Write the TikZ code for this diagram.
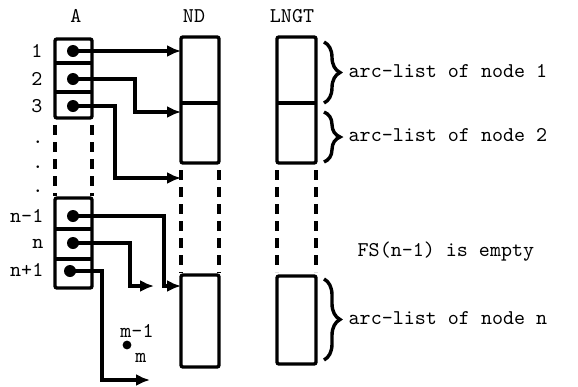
\documentclass[tikz,border=0pt]{standalone}
\usepackage{tikz}
\usetikzlibrary{arrows.meta, decorations.pathreplacing}

\begin{document}
\begin{tikzpicture}[x=0.5pt, y=-0.5pt, line width=1.7pt,
    txt/.style={font=\ttfamily\fontsize{10.5}{12}\selectfont, inner sep=0pt},
    ptr/.style={-{Latex[length=7pt, width=6pt]}},
    gap/.style={dash pattern=on 5pt off 3.5pt},
    brc/.style={decorate, decoration={brace, amplitude=8pt}}]
    \useasboundingbox (0,0) rectangle (578,386);

    % column heads
    \node[txt] (headA) at (76,16) {A};
    \node[txt] (headND) at (194,16) {ND};
    \node[txt] (headLNGT) at (292,16) {LNGT};

    % array A
    \draw[rounded corners=1pt] (55,39) rectangle (92,118);
    \draw (55,63) -- (92,63);
    \draw (55,92) -- (92,92);
    \draw[gap] (55,125) -- (55,196);
    \draw[gap] (92,125) -- (92,196);
    \draw[rounded corners=1pt] (55,198) rectangle (92,288);
    \draw (55,229) -- (92,229);
    \draw (55,259) -- (92,259);

    \node[txt, anchor=east] (i1) at (44,51) {1};
    \node[txt, anchor=east] (i2) at (44,79) {2};
    \node[txt, anchor=east] (i3) at (44,106) {3};
    \node[txt] (v1) at (38,142) {.};
    \node[txt] (v2) at (38,167) {.};
    \node[txt] (v3) at (38,191) {.};
    \node[txt, anchor=east] (in1) at (45,216) {n-1};
    \node[txt, anchor=east] (in) at (45,244) {n};
    \node[txt, anchor=east] (inp) at (45,270) {n+1};

    % array ND
    \draw[rounded corners=1pt] (181,37) rectangle (219,163);
    \draw (181,103) -- (219,103);
    \draw[gap] (181,170) -- (181,273);
    \draw[gap] (219,170) -- (219,273);
    \draw[rounded corners=1pt] (181,275) rectangle (219,367);

    % array LNGT
    \draw[rounded corners=1pt] (277,37) rectangle (316,163);
    \draw (277,103) -- (316,103);
    \draw[gap] (277,170) -- (277,272);
    \draw[gap] (316,170) -- (316,272);
    \draw[rounded corners=1pt] (277,276) rectangle (316,364);

    % pointers
    \coordinate (p1) at (73,51);
    \coordinate (p2) at (73,79);
    \coordinate (p3) at (73,106);
    \coordinate (pn1) at (73,216);
    \coordinate (pn) at (73,243);
    \coordinate (pnp) at (70,271);
    \foreach \p in {p1,p2,p3,pn1,pn,pnp}
        \fill (\p) circle (3pt);

    \coordinate (t1) at (181,51);
    \coordinate (t2) at (181,112);
    \coordinate (t3) at (181,178);
    \coordinate (tn1) at (181,286);
    \coordinate (tn) at (154,286);
    \coordinate (tnp) at (150,380);

    \draw[ptr] (p1) -- (t1);
    \draw[ptr] (p2) -| (135,112) -- (t2);
    \draw[ptr] (p3) -| (115,178) -- (t3);
    \draw[ptr] (pn1) -| (164,286) -- (tn1);
    \draw[ptr] (pn) -| (130,286) -- (tn);
    \draw[ptr] (pnp) -| (102,380) -- (tnp);

    \node[txt] (m1) at (137,331) {m-1};
    \fill (127,345) circle (2.2pt);
    \node[txt] (m) at (141,358) {m};

    % arc-lists
    \draw[brc] (324,42) -- (324,103);
    \draw[brc] (324,112) -- (324,162);
    \draw[brc] (324,279) -- (324,360);
    \node[txt, anchor=west] (arc1) at (347,71) {arc-list of node 1};
    \node[txt, anchor=west] (arc2) at (347,135) {arc-list of node 2};
    \node[txt, anchor=west] (fs) at (356,252) {FS(n-1) is empty};
    \node[txt, anchor=west] (arcn) at (347,318) {arc-list of node n};
\end{tikzpicture}
\end{document}
